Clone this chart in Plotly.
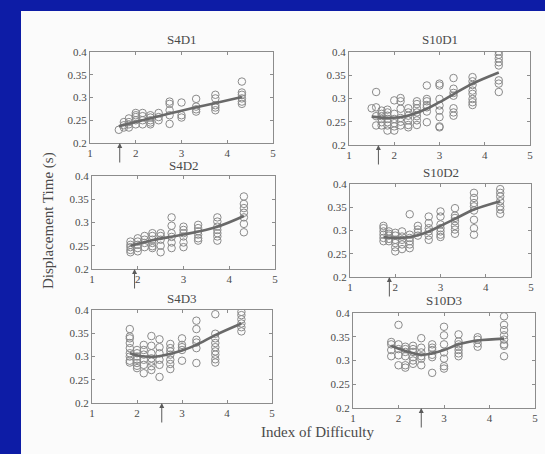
import plotly.graph_objects as go

# ---------------- data ----------------
TITLES = ["S4D1", "S10D1", "S4D2", "S10D2", "S4D3", "S10D3"]
X_TICKS = [1, 2, 3, 4, 5]
Y_TICKS = [0.2, 0.25, 0.3, 0.35, 0.4]
Y_TICK_TEXT = ["0.2", "0.25", "0.3", "0.35", "0.4"]

# S4D1
ID_S4D1 = [1.63, 1.74, 1.85, 2.0, 2.15, 2.32, 2.5, 2.74, 3.0, 3.32, 3.74, 4.32]
T_S4D1 = [[0.229], [0.246, 0.239, 0.234], [0.254, 0.246, 0.241, 0.234],
          [0.266, 0.261, 0.257, 0.25, 0.241], [0.266, 0.259, 0.25, 0.241],
          [0.261, 0.256, 0.25, 0.245, 0.241], [0.266, 0.257, 0.25],
          [0.291, 0.286, 0.272, 0.261, 0.242], [0.289, 0.261, 0.256],
          [0.297, 0.28, 0.274, 0.269], [0.306, 0.298, 0.283, 0.278, 0.272],
          [0.335, 0.311, 0.306, 0.298, 0.291, 0.286]]
FIT_X_S4D1 = [1.63, 2.3, 3.0, 3.7, 4.32]
FIT_Y_S4D1 = [0.237, 0.254, 0.271, 0.287, 0.301]
ARROW_S4D1 = 1.65

# S10D1
ID_S10D1 = [1.5, 1.6, 1.72, 1.85, 2.0, 2.14, 2.31, 2.5, 2.72, 3.0, 3.31, 3.73, 4.31]
T_S10D1 = [[0.279], [0.314, 0.281, 0.262, 0.242],
           [0.274, 0.267, 0.262, 0.256, 0.249, 0.242],
           [0.276, 0.270, 0.263, 0.256, 0.249, 0.242, 0.231],
           [0.296, 0.267, 0.256, 0.247, 0.240, 0.231],
           [0.301, 0.294, 0.278, 0.258, 0.250, 0.242],
           [0.279, 0.270, 0.263, 0.253, 0.243, 0.238],
           [0.294, 0.288, 0.279, 0.270, 0.262, 0.253, 0.243],
           [0.328, 0.299, 0.294, 0.286, 0.281, 0.272, 0.249],
           [0.332, 0.328, 0.299, 0.285, 0.274, 0.260, 0.240, 0.238],
           [0.344, 0.321, 0.312, 0.306, 0.279, 0.270, 0.263],
           [0.346, 0.337, 0.329, 0.317, 0.310, 0.299, 0.292, 0.286],
           [0.401, 0.394, 0.386, 0.378, 0.371, 0.339, 0.332, 0.314]]
FIT_X_S10D1 = [1.5, 1.89, 2.25, 2.72, 3.0, 3.36, 3.73, 4.31]
FIT_Y_S10D1 = [0.261, 0.258, 0.262, 0.278, 0.292, 0.312, 0.332, 0.356]
ARROW_S10D1 = 1.65

# S4D2
ID_S4D2 = [1.84, 2.0, 2.15, 2.32, 2.5, 2.74, 3.0, 3.32, 3.74, 4.32]
T_S4D2 = [[0.259, 0.252, 0.247, 0.241, 0.236],
          [0.266, 0.259, 0.252, 0.245, 0.238],
          [0.271, 0.263, 0.256, 0.247],
          [0.277, 0.271, 0.263, 0.256, 0.249, 0.245],
          [0.277, 0.271, 0.263, 0.25, 0.236],
          [0.311, 0.293, 0.277, 0.269, 0.257, 0.245],
          [0.291, 0.284, 0.277, 0.270, 0.257, 0.247],
          [0.295, 0.288, 0.281, 0.274, 0.266, 0.261],
          [0.311, 0.302, 0.291, 0.284, 0.277, 0.270, 0.261],
          [0.356, 0.340, 0.331, 0.321, 0.311, 0.297, 0.279]]
FIT_X_S4D2 = [1.84, 2.32, 3.0, 3.74, 4.32]
FIT_Y_S4D2 = [0.250, 0.262, 0.274, 0.291, 0.314]
ARROW_S4D2 = 1.93

# S10D2
ID_S10D2 = [1.74, 1.86, 2.0, 2.15, 2.32, 2.5, 2.74, 3.0, 3.32, 3.74, 4.32]
T_S10D2 = [[0.310, 0.305, 0.298, 0.291, 0.284, 0.277],
           [0.298, 0.293, 0.289, 0.282, 0.277],
           [0.295, 0.289, 0.280, 0.273, 0.264, 0.255],
           [0.298, 0.287, 0.280, 0.270, 0.260],
           [0.335, 0.291, 0.284, 0.277, 0.270, 0.262],
           [0.310, 0.302, 0.296, 0.289],
           [0.330, 0.316, 0.305, 0.298, 0.289, 0.280],
           [0.341, 0.330, 0.313, 0.305, 0.298, 0.291, 0.286],
           [0.348, 0.332, 0.327, 0.320, 0.310, 0.302, 0.293],
           [0.381, 0.370, 0.359, 0.352, 0.343, 0.323, 0.305, 0.291],
           [0.389, 0.381, 0.373, 0.363, 0.352, 0.345, 0.336]]
FIT_X_S10D2 = [1.74, 2.0, 2.32, 2.74, 3.0, 3.32, 3.74, 4.32]
FIT_Y_S10D2 = [0.286, 0.284, 0.286, 0.298, 0.310, 0.325, 0.345, 0.363]
ARROW_S10D2 = 1.87

# S4D3
ID_S4D3 = [1.84, 2.0, 2.15, 2.32, 2.5, 2.74, 3.0, 3.32, 3.74, 4.32]
T_S4D3 = [[0.359, 0.343, 0.339, 0.329, 0.318, 0.307, 0.300, 0.291, 0.287],
          [0.314, 0.307, 0.300, 0.293, 0.286, 0.280, 0.275],
          [0.325, 0.314, 0.304, 0.293, 0.282, 0.264],
          [0.344, 0.323, 0.307, 0.296, 0.289, 0.279, 0.271],
          [0.337, 0.320, 0.307, 0.293, 0.282, 0.256],
          [0.327, 0.318, 0.311, 0.304, 0.293, 0.284, 0.273],
          [0.339, 0.325, 0.320, 0.314, 0.291],
          [0.377, 0.359, 0.336, 0.330, 0.318, 0.286],
          [0.391, 0.349, 0.339, 0.329, 0.320, 0.311, 0.304, 0.294, 0.287],
          [0.396, 0.389, 0.380, 0.371, 0.363, 0.354]]
FIT_X_S4D3 = [1.84, 2.07, 2.44, 3.0, 3.32, 3.74, 4.32]
FIT_Y_S4D3 = [0.307, 0.301, 0.300, 0.313, 0.325, 0.346, 0.371]
ARROW_S4D3 = 2.55

# S10D3
ID_S10D3 = [1.84, 2.0, 2.15, 2.32, 2.5, 2.74, 3.0, 3.32, 3.74, 4.32]
T_S10D3 = [[0.339, 0.334, 0.322, 0.309],
           [0.375, 0.334, 0.324, 0.311, 0.290],
           [0.329, 0.324, 0.318, 0.309, 0.290, 0.285],
           [0.331, 0.324, 0.318, 0.307, 0.300, 0.293],
           [0.347, 0.327, 0.317, 0.309, 0.304, 0.290],
           [0.334, 0.327, 0.322, 0.312, 0.307, 0.274],
           [0.371, 0.353, 0.334, 0.317, 0.304, 0.288, 0.283],
           [0.355, 0.340, 0.334, 0.329, 0.322, 0.315, 0.309],
           [0.349, 0.344, 0.336, 0.329],
           [0.393, 0.375, 0.364, 0.353, 0.344, 0.334, 0.331, 0.309]]
FIT_X_S10D3 = [1.84, 2.15, 2.5, 2.74, 3.0, 3.32, 3.74, 4.32]
FIT_Y_S10D3 = [0.331, 0.320, 0.312, 0.315, 0.322, 0.334, 0.342, 0.346]
ARROW_S10D3 = 2.50

PANELS = [
    (ID_S4D1, T_S4D1, FIT_X_S4D1, FIT_Y_S4D1, ARROW_S4D1),
    (ID_S10D1, T_S10D1, FIT_X_S10D1, FIT_Y_S10D1, ARROW_S10D1),
    (ID_S4D2, T_S4D2, FIT_X_S4D2, FIT_Y_S4D2, ARROW_S4D2),
    (ID_S10D2, T_S10D2, FIT_X_S10D2, FIT_Y_S10D2, ARROW_S10D2),
    (ID_S4D3, T_S4D3, FIT_X_S4D3, FIT_Y_S4D3, ARROW_S4D3),
    (ID_S10D3, T_S10D3, FIT_X_S10D3, FIT_Y_S10D3, ARROW_S10D3),
]

# ---------------- layout (pixel boxes of each axes: left, right, top, bottom) ----------------
W, H = 545, 454
BOXES = [(90, 273, 52, 143), (349, 530, 52, 145),
         (92, 275, 176, 269), (350, 531, 184, 277),
         (92, 272, 310, 403), (353, 535, 313, 408)]
TITLE_GAP = [13, 13, 10, 12, 12, 13]

FONT = "Liberation Serif, Times New Roman, serif"
AXIS_COL = "#8c8c8c"
TEXT_COL = "#4a4a4a"

fig = go.Figure()
layout = dict(
    width=W, height=H, margin=dict(l=0, r=0, t=0, b=0, pad=0), autosize=False,
    paper_bgcolor="#0d1ca6", plot_bgcolor="rgba(0,0,0,0)",
    showlegend=False, font=dict(family=FONT, color=TEXT_COL),
    shapes=[dict(type="rect", xref="paper", yref="paper",
                 x0=21 / W, x1=1.0, y0=0.0, y1=1 - 11 / H,
                 fillcolor="#fbfbfb", line=dict(width=0), layer="below")],
    annotations=[],
)

for i, ((ids, times, fx, fy, arrow_x), (l, r, t, b), title, gap) in enumerate(
        zip(PANELS, BOXES, TITLES, TITLE_GAP)):
    n = i + 1
    xa = "x" if n == 1 else f"x{n}"
    ya = "y" if n == 1 else f"y{n}"
    xs, ys = [], []
    for xv, col in zip(ids, times):
        for yv in col:
            xs.append(xv)
            ys.append(yv)
    fig.add_trace(go.Scatter(x=xs, y=ys, mode="markers", xaxis=xa, yaxis=ya,
                             marker=dict(symbol="circle-open", size=7.5,
                                         color="#8a8a8a", line=dict(width=1))))
    fig.add_trace(go.Scatter(x=fx, y=fy, mode="lines", xaxis=xa, yaxis=ya,
                             line=dict(color="#696969", width=2.6, shape="spline")))
    axcommon = dict(showline=True, linecolor=AXIS_COL, linewidth=1, mirror="ticks",
                    ticks="inside", ticklen=3, tickcolor=AXIS_COL, showgrid=False,
                    zeroline=False, automargin=False,
                    tickfont=dict(family=FONT, size=11, color=TEXT_COL))
    layout["xaxis" if n == 1 else f"xaxis{n}"] = dict(
        axcommon, domain=[l / W, r / W], range=[1, 5], tickvals=X_TICKS,
        anchor=ya)
    layout["yaxis" if n == 1 else f"yaxis{n}"] = dict(
        axcommon, domain=[1 - b / H, 1 - t / H], range=[0.2, 0.4],
        tickvals=Y_TICKS, ticktext=Y_TICK_TEXT, anchor=xa)
    layout["annotations"].append(dict(
        text=title, xref="paper", yref="paper", x=(l + r) / 2 / W, y=1 - (t - gap) / H,
        showarrow=False, xanchor="center", yanchor="middle", borderpad=0,
        font=dict(family=FONT, size=13, color=TEXT_COL)))
    layout["annotations"].append(dict(
        text="", xref=xa, yref=ya, x=arrow_x, y=0.2, ax=0, ay=21,
        showarrow=True, arrowhead=2, arrowsize=1, arrowwidth=1, arrowcolor="#5a5a5a"))

layout["annotations"].append(dict(
    text="Displacement Time (s)", xref="paper", yref="paper", x=48 / W, y=1 - 221 / H,
    showarrow=False, textangle=-90, xanchor="center", yanchor="middle",
    font=dict(family=FONT, size=15, color=TEXT_COL)))
layout["annotations"].append(dict(
    text="Index of Difficulty", xref="paper", yref="paper", x=318 / W, y=1 - 432 / H,
    showarrow=False, xanchor="center", yanchor="middle", borderpad=0,
    font=dict(family=FONT, size=15, color=TEXT_COL)))

fig.update_layout(**layout)
fig.write_html("out.html",
               post_script="document.body.style.margin='0';document.body.style.overflow='hidden';")
